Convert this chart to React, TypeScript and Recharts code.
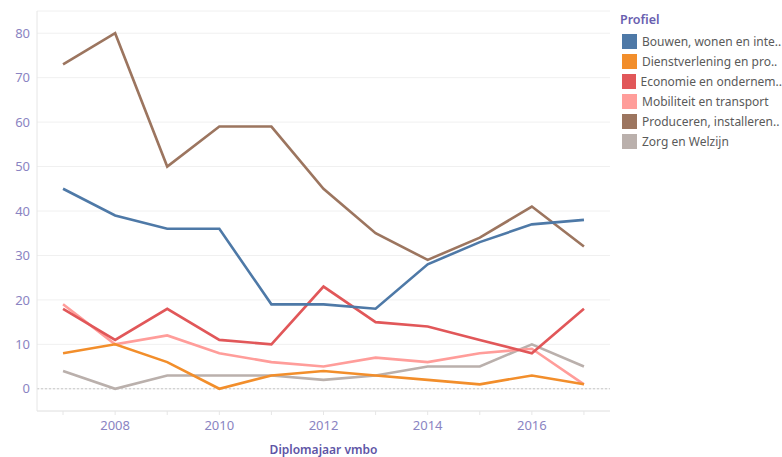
import React from "react";
import { LineChart, Line, XAxis, YAxis, CartesianGrid, ReferenceLine, Legend } from "recharts";

const years = [2007, 2008, 2009, 2010, 2011, 2012, 2013, 2014, 2015, 2016, 2017];
const bouwen = [45, 39, 36, 36, 19, 19, 18, 28, 33, 37, 38];
const dienst = [8, 10, 6, 0, 3, 4, 3, 2, 1, 3, 1];
const economie = [18, 11, 18, 11, 10, 23, 15, 14, 11, 8, 18];
const mobiliteit = [19, 10, 12, 8, 6, 5, 7, 6, 8, 9, 1];
const produceren = [73, 80, 50, 59, 59, 45, 35, 29, 34, 41, 32];
const zorg = [4, 0, 3, 3, 3, 2, 3, 5, 5, 10, 5];

const yTicks = [0, 10, 20, 30, 40, 50, 60, 70, 80];
const xTicks = years;
const xLabelTicks = [2008, 2010, 2012, 2014, 2016];

const seriesDefs = [
  { key: "bouwen", label: "Bouwen, wonen en inte..", color: "#4e79a7", values: bouwen },
  { key: "dienst", label: "Dienstverlening en pro..", color: "#f28e2b", values: dienst },
  { key: "economie", label: "Economie en ondernem..", color: "#e15759", values: economie },
  { key: "mobiliteit", label: "Mobiliteit en transport", color: "#ff9d9a", values: mobiliteit },
  { key: "produceren", label: "Produceren, installeren..", color: "#9c755f", values: produceren },
  { key: "zorg", label: "Zorg en Welzijn", color: "#bab0ac", values: zorg },
];

const drawOrder = ["zorg", "mobiliteit", "dienst", "economie", "produceren", "bouwen"];

const data = years.map((y, i) => {
  const row: any = { year: y };
  seriesDefs.forEach((s) => (row[s.key] = s.values[i]));
  return row;
});

const FONT = "'Noto Sans', sans-serif";

const renderLegend = () => (
  <div style={{ fontFamily: FONT }}>
    <div style={{ color: "#6a5fb0", fontWeight: 600, fontSize: 12.5, lineHeight: "16px", marginBottom: 3 }}>Profiel</div>
    {seriesDefs.map((s) => (
      <div key={s.key} style={{ display: "flex", alignItems: "center", height: 20 }}>
        <div style={{ width: 15, height: 15, background: s.color, marginLeft: 2, marginRight: 5 }} />
        <span style={{ color: "#5a5a5a", fontSize: 12, whiteSpace: "nowrap" }}>{s.label}</span>
      </div>
    ))}
  </div>
);

export default function App() {
  return (
    <div style={{ position: "absolute", left: 0, top: 0 }}>
      <LineChart width={782} height={457} data={data} margin={{ top: 11, right: 10, bottom: 0, left: 0 }}>
        <CartesianGrid horizontal={true} vertical={false} stroke="#f0f0f0" />
        <XAxis
          dataKey="year"
          type="number"
          domain={[2006.5, 2017.5]}
          ticks={xTicks}
          interval={0}
          tickFormatter={(v: number) => (xLabelTicks.includes(v) ? String(v) : "")}
          height={46}
          tickSize={4}
          tickMargin={6}
          stroke="#e6e6e6"
          tick={{ fill: "#8a84c2", fontSize: 13, fontFamily: FONT }}
          label={{ value: "Diplomajaar vmbo", position: "insideBottom", offset: 3, fill: "#5e55a6", fontSize: 12, fontWeight: 600, fontFamily: FONT }}
        />
        <YAxis
          type="number"
          domain={[-5, 85]}
          ticks={yTicks}
          interval={0}
          width={37}
          tickSize={0}
          tickMargin={7}
          stroke="#e6e6e6"
          tick={{ fill: "#8a84c2", fontSize: 13, fontFamily: FONT }}
        />
        <ReferenceLine y={0} stroke="#c8c8c8" strokeDasharray="2 2" />
        <Legend layout="vertical" align="right" verticalAlign="top" content={renderLegend} wrapperStyle={{ left: 620, top: 12, width: 162 }} />
        {drawOrder.map((k) => {
          const s = seriesDefs.find((d) => d.key === k)!;
          return (
            <Line
              key={k}
              dataKey={k}
              type="linear"
              stroke={s.color}
              strokeWidth={2.6}
              dot={false}
              activeDot={false}
              isAnimationActive={false}
            />
          );
        })}
      </LineChart>
    </div>
  );
}
